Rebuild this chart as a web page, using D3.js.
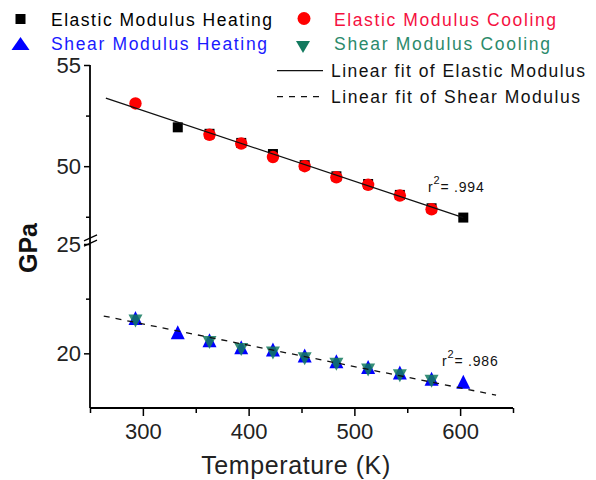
<!DOCTYPE html>
<html>
<head>
<meta charset="utf-8">
<script src="https://cdn.jsdelivr.net/npm/d3@7"></script>
<style>
  html, body { margin: 0; padding: 0; background: #fff; }
  svg { display: block; font-family: "Liberation Sans", Arial, sans-serif; }
</style>
</head>
<body>
<svg id="chart" width="596" height="480"></svg>
<script>
// Elastic modulus (GPa) vs temperature (K)
const elasticHeatT = [333, 363, 393, 423, 453, 483, 513, 543, 573, 603];
const elasticHeatV = [51.92, 51.6, 51.15, 50.6, 50.05, 49.5, 49.12, 48.58, 47.92, 47.46];
const elasticCoolT = [293, 363, 393, 423, 453, 483, 513, 543, 573];
const elasticCoolV = [53.1, 51.55, 51.12, 50.45, 50.0, 49.45, 49.08, 48.55, 47.87];

// Shear modulus (GPa) vs temperature (K)
const shearHeatT = [293, 333, 363, 393, 423, 453, 483, 513, 543, 573, 603];
const shearHeatV = [21.62, 20.96, 20.6, 20.28, 20.18, 19.9, 19.64, 19.38, 19.12, 18.84, 18.7];
const shearCoolT = [293, 363, 393, 423, 453, 483, 513, 543, 573];
const shearCoolV = [21.48, 20.5, 20.18, 20.02, 19.75, 19.5, 19.24, 18.98, 18.72];

// Linear fits: [intercept, slope] and the temperature span each is drawn over
const elasticFit = [58.0, -0.01749];
const elasticFitSpan = [265, 603];
const shearFit = [24.27, -0.00975];
const shearFitSpan = [263, 634];
const fitLabels = ["= .994", "= .986"];

// Axis ticks
const xMajor = [300, 400, 500, 600];
const xMinor = [250, 350, 450, 550, 650];
const yUpperMajor = [50, 55];
const yUpperMinor = [47.5, 52.5];
const yLowerMajor = [20, 25];
const yLowerMinor = [22.5];

const legendItems = [
  { label: "Elastic Modulus Heating", color: "#000", text: "#000", shape: "square" },
  { label: "Elastic Modulus Cooling", color: "#ff0000", text: "#f5103f", shape: "circle" },
  { label: "Shear Modulus Heating", color: "#0000ff", text: "#1a1aff", shape: "up" },
  { label: "Shear Modulus Cooling", color: "#137a5f", text: "#2b8a6b", shape: "down" },
  { label: "Linear fit of Elastic Modulus", shape: "solid" },
  { label: "Linear fit of Shear Modulus", shape: "dash" }
];

const svg = d3.select("#chart");

const x = d3.scaleLinear().domain([250, 650]).range([90, 513]);
// Broken y axis: two segments sharing one axis line
const yUp = d3.scaleLinear().domain([46.5, 55]).range([237, 65]);
const yLo = d3.scaleLinear().domain([17.5, 25]).range([408, 244]);
const y = v => (v > 35 ? yUp(v) : yLo(v));

const tri = (w, h, down) => down
  ? `M0,${h / 2}L${w / 2},${-h / 2}L${-w / 2},${-h / 2}Z`
  : `M0,${-h / 2}L${w / 2},${h / 2}L${-w / 2},${h / 2}Z`;

// ---- axes ----
const axisG = svg.append("g").attr("stroke", "#000");

function styleAxis(g) {
  g.select(".domain").remove();
  g.selectAll("line").attr("stroke", "#000").attr("stroke-width", 1.5);
}

// x axis
svg.append("g").attr("transform", "translate(0,408)")
  .call(d3.axisBottom(x).tickValues(xMajor).tickSize(8).tickPadding(7).tickFormat(d3.format("d")))
  .call(styleAxis)
  .call(g => g.selectAll("text").attr("font-size", 22).attr("fill", "#222")
    .attr("font-family", "'Liberation Sans', Arial, sans-serif"));
svg.append("g").attr("transform", "translate(0,408)")
  .call(d3.axisBottom(x).tickValues(xMinor).tickSize(5).tickFormat(""))
  .call(styleAxis);

// y axis (upper and lower segments)
[[yUp, yUpperMajor, yUpperMinor], [yLo, yLowerMajor, yLowerMinor]].forEach(([s, maj, mn]) => {
  svg.append("g").attr("transform", "translate(90,0)")
    .call(d3.axisLeft(s).tickValues(maj).tickSize(6).tickPadding(3).tickFormat(d3.format("d")))
    .call(styleAxis)
    .call(g => g.selectAll("text").attr("font-size", 22).attr("fill", "#222")
      .attr("font-family", "'Liberation Sans', Arial, sans-serif"));
  svg.append("g").attr("transform", "translate(90,0)")
    .call(d3.axisLeft(s).tickValues(mn).tickSize(4).tickFormat(""))
    .call(styleAxis);
});

// axis lines
svg.append("line").attr("x1", 90).attr("x2", 90)
  .attr("y1", yUp(55)).attr("y2", yLo(17.5))
  .attr("stroke", "#000").attr("stroke-width", 1.8);
svg.append("line").attr("x1", x(250)).attr("x2", x(650))
  .attr("y1", 408).attr("y2", 408)
  .attr("stroke", "#000").attr("stroke-width", 1.8);

// break marks
const brk = (yUp.range()[0] + yLo.range()[1]) / 2;
[-2.6, 2.6].forEach(o => {
  svg.append("line")
    .attr("x1", 84).attr("y1", brk + o + 3)
    .attr("x2", 97).attr("y2", brk + o - 3)
    .attr("stroke", "#000").attr("stroke-width", 1.2);
});

// axis titles
svg.append("text")
  .attr("x", 296).attr("y", 474)
  .attr("text-anchor", "middle")
  .attr("font-size", 25).attr("fill", "#222")
  .attr("letter-spacing", 0.6)
  .text("Temperature (K)");
svg.append("text")
  .attr("transform", "translate(37,248) rotate(-90)")
  .attr("text-anchor", "middle")
  .attr("font-size", 25).attr("font-weight", "bold").attr("fill", "#111")
  .text("GPa");

// ---- markers ----
const zip = (t, v) => t.map((d, i) => ({ t: d, v: v[i] }));

svg.append("g").selectAll("rect").data(zip(elasticHeatT, elasticHeatV)).join("rect")
  .attr("x", d => x(d.t) - 5).attr("y", d => y(d.v) - 5)
  .attr("width", 10).attr("height", 10).attr("fill", "#000");

svg.append("g").selectAll("circle").data(zip(elasticCoolT, elasticCoolV)).join("circle")
  .attr("cx", d => x(d.t)).attr("cy", d => y(d.v)).attr("r", 6.2)
  .attr("fill", "#ff0000");

svg.append("g").selectAll("path").data(zip(shearHeatT, shearHeatV)).join("path")
  .attr("transform", d => `translate(${x(d.t)},${y(d.v)})`)
  .attr("d", tri(14, 14, false)).attr("fill", "#0000ff");

svg.append("g").selectAll("path").data(zip(shearCoolT, shearCoolV)).join("path")
  .attr("transform", d => `translate(${x(d.t)},${y(d.v)})`)
  .attr("d", tri(14, 13, true)).attr("fill", "#137a5f").attr("fill-opacity", 0.85);

// ---- fit lines ----
const fitLine = (fit, span) => d3.line()
  .x(d => x(d))
  .y(d => y(fit[0] + fit[1] * d))(span);

svg.append("path").attr("d", fitLine(elasticFit, elasticFitSpan))
  .attr("fill", "none").attr("stroke", "#111").attr("stroke-width", 1.3);
svg.append("path").attr("d", fitLine(shearFit, shearFitSpan))
  .attr("fill", "none").attr("stroke", "#111").attr("stroke-width", 1.3)
  .attr("stroke-dasharray", "6,6");

// r² annotations
function rLabel(px, py, rest) {
  const t = svg.append("text").attr("x", px).attr("y", py)
    .attr("font-size", 14).attr("fill", "#111").attr("letter-spacing", 0.8);
  t.append("tspan").text("r");
  t.append("tspan").attr("dy", -8).attr("font-size", 11).text("2");
  t.append("tspan").attr("dy", 8).text(rest);
}
rLabel(428, 192, fitLabels[0]);
rLabel(442, 366, fitLabels[1]);

// ---- legend ----
const legendPos = [
  { sx: 20.5, sy: 19, tx: 51, ty: 25.5, w: 221 },
  { sx: 304, sy: 18.5, tx: 334, ty: 25.5, w: 222 },
  { sx: 20.5, sy: 43.5, tx: 51, ty: 50, w: 216 },
  { sx: 303, sy: 47, tx: 334, ty: 50, w: 216 },
  { sx: 299, sy: 70.7, tx: 331, ty: 77, w: 254 },
  { sx: 299, sy: 96.7, tx: 331, ty: 102.5, w: 249 }
];
const lg = svg.append("g");
legendItems.forEach((it, i) => {
  const p = legendPos[i];
  if (it.shape === "square") {
    lg.append("rect").attr("x", p.sx - 5).attr("y", p.sy - 5).attr("width", 10).attr("height", 10).attr("fill", it.color);
  } else if (it.shape === "circle") {
    lg.append("circle").attr("cx", p.sx).attr("cy", p.sy).attr("r", 6.5).attr("fill", it.color);
  } else if (it.shape === "up") {
    lg.append("path").attr("transform", `translate(${p.sx},${p.sy})`).attr("d", tri(18, 13, false)).attr("fill", it.color);
  } else if (it.shape === "down") {
    lg.append("path").attr("transform", `translate(${p.sx},${p.sy})`).attr("d", tri(14, 12, true)).attr("fill", it.color);
  } else {
    lg.append("line").attr("x1", p.sx - 22).attr("x2", p.sx + 24)
      .attr("y1", p.sy).attr("y2", p.sy)
      .attr("stroke", "#111").attr("stroke-width", 1.3)
      .attr("stroke-dasharray", it.shape === "dash" ? "6,6" : null);
  }
  lg.append("text").attr("x", p.tx).attr("y", p.ty)
    .attr("font-size", 17.5).attr("fill", it.text || "#111")
    .attr("textLength", p.w).attr("lengthAdjust", "spacing")
    .text(it.label);
});
</script>
</body>
</html>
